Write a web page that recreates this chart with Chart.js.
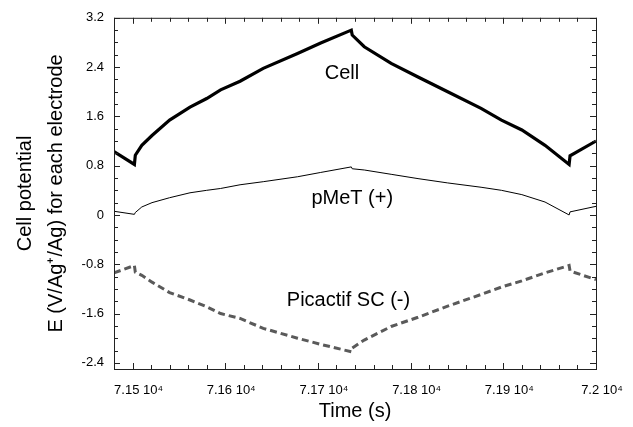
<!DOCTYPE html>
<html>
<head>
<meta charset="utf-8">
<script src="https://cdn.jsdelivr.net/npm/chart.js@4.4.1/dist/chart.umd.min.js"></script>
<style>
  body { margin: 0; background: #fff; }
  #chart { display: block; }
</style>
</head>
<body>
<canvas id="chart" width="633" height="427"></canvas>
<script>
// time (s) - shared by the three curves, repeated points give the vertical jumps
var time = [71480, 71502, 71503, 71510, 71521, 71540, 71562, 71580, 71595, 71616, 71641, 71678, 71703, 71736, 71737, 71750, 71779, 71808, 71840, 71876, 71898, 71920, 71945, 71971, 71972, 72000];
var cell = [1.03, 0.82, 0.97, 1.13, 1.29, 1.54, 1.75, 1.89, 2.03, 2.17, 2.38, 2.62, 2.79, 3.00, 2.92, 2.73, 2.46, 2.24, 2.00, 1.73, 1.54, 1.38, 1.13, 0.82, 0.96, 1.20];
var pmet = [0.06, 0.01, 0.04, 0.13, 0.20, 0.28, 0.36, 0.40, 0.43, 0.49, 0.54, 0.62, 0.69, 0.78, 0.75, 0.73, 0.66, 0.59, 0.52, 0.45, 0.40, 0.33, 0.21, 0.00, 0.05, 0.14];
var picactif = [-0.94, -0.82, -0.93, -0.98, -1.09, -1.26, -1.38, -1.49, -1.60, -1.68, -1.84, -2.00, -2.10, -2.22, -2.16, -2.03, -1.81, -1.66, -1.48, -1.29, -1.17, -1.07, -0.94, -0.82, -0.91, -1.05];

var xTicks = [71500, 71600, 71700, 71800, 71900, 72000];
var yTicks = [-2.4, -1.6, -0.8, 0, 0.8, 1.6, 2.4, 3.2];

var curveLabels = [
  {text: "Cell", t: 71726, e: 2.29},
  {text: "pMeT (+)", t: 71737, e: 0.27},
  {text: "Picactif SC (-)", t: 71733, e: -1.39}
];

var font = "'Liberation Sans', Arial, sans-serif";

function pts(ys) {
  return time.map(function(t, i) { return {x: t, y: ys[i]}; });
}

// ticks pointing inward on all four sides + frame + curve labels
var frame = {
  id: "frame",
  afterDraw: function(chart) {
    var ctx = chart.ctx;
    var a = chart.chartArea;
    var xs = chart.scales.x, ys = chart.scales.y;
    ctx.save();
    ctx.strokeStyle = "#222";
    ctx.lineWidth = 1;
    ctx.strokeRect(a.left + 0.5, a.top + 0.5, a.right - a.left, a.bottom - a.top);
    ctx.beginPath();
    for (var t = 71480; t <= 72000; t += 20) {
      var px = Math.round(xs.getPixelForValue(t)) + 0.5;
      var len = (t % 100 == 0) ? 6 : 4;
      ctx.moveTo(px, a.bottom); ctx.lineTo(px, a.bottom - len);
      ctx.moveTo(px, a.top); ctx.lineTo(px, a.top + len);
    }
    for (var k = -12; k <= 16; k++) {
      var v = k * 0.2;
      var py = Math.round(ys.getPixelForValue(v)) + 0.5;
      var l2 = (k % 4 == 0) ? 6 : 4;
      ctx.moveTo(a.left, py); ctx.lineTo(a.left + l2, py);
      ctx.moveTo(a.right, py); ctx.lineTo(a.right - l2, py);
    }
    ctx.stroke();

    ctx.fillStyle = "#000";
    ctx.font = "20px " + font;
    ctx.textAlign = "center";
    ctx.textBaseline = "middle";
    curveLabels.forEach(function(c) {
      ctx.fillText(c.text, xs.getPixelForValue(c.t), ys.getPixelForValue(c.e));
    });
    ctx.restore();
  }
};

new Chart(document.getElementById("chart"), {
  type: "scatter",
  data: {
    datasets: [
      {data: pts(cell), showLine: true, borderColor: "#000", borderWidth: 3.2, pointRadius: 0, tension: 0},
      {data: pts(pmet), showLine: true, borderColor: "#000", borderWidth: 1, pointRadius: 0, tension: 0},
      {data: pts(picactif), showLine: true, borderColor: "#5a5a5a", borderWidth: 3, borderDash: [7, 4], pointRadius: 0, tension: 0}
    ]
  },
  options: {
    responsive: false,
    animation: false,
    layout: {padding: {top: 17, right: 37, left: 0, bottom: 0}},
    plugins: {legend: {display: false}, tooltip: {enabled: false}},
    scales: {
      x: {
        type: "linear",
        min: 71480, max: 72000,
        afterBuildTicks: function(s) { s.ticks = xTicks.map(function(v) { return {value: v}; }); },
        afterFit: function(s) { s.height = 58; },
        grid: {display: false, drawTicks: false},
        border: {display: false},
        ticks: {
          color: "#000", padding: 14, maxRotation: 0, labelOffset: 6,
          font: {family: font, size: 13},
          callback: function(v) { return (v / 10000).toString() + " 10\u2074"; }
        },
        title: {display: true, text: "Time (s)", color: "#000", padding: {top: 2},
          font: {family: font, size: 20}}
      },
      y: {
        type: "linear",
        min: -2.5, max: 3.2,
        afterBuildTicks: function(s) { s.ticks = yTicks.map(function(v) { return {value: v}; }); },
        afterFit: function(s) { s.width = 114; },
        grid: {display: false, drawTicks: false},
        border: {display: false},
        ticks: {
          color: "#000", padding: 10,
          font: {family: font, size: 13},
          callback: function(v) { return v.toString(); }
        },
        title: {display: true, text: ["Cell potential", "E (V/Ag\u207A/Ag) for each electrode"], color: "#000",
          padding: {top: 10, bottom: 0},
          font: {family: font, size: 20, lineHeight: 1.55}}
      }
    }
  },
  plugins: [frame]
});
</script>
</body>
</html>
